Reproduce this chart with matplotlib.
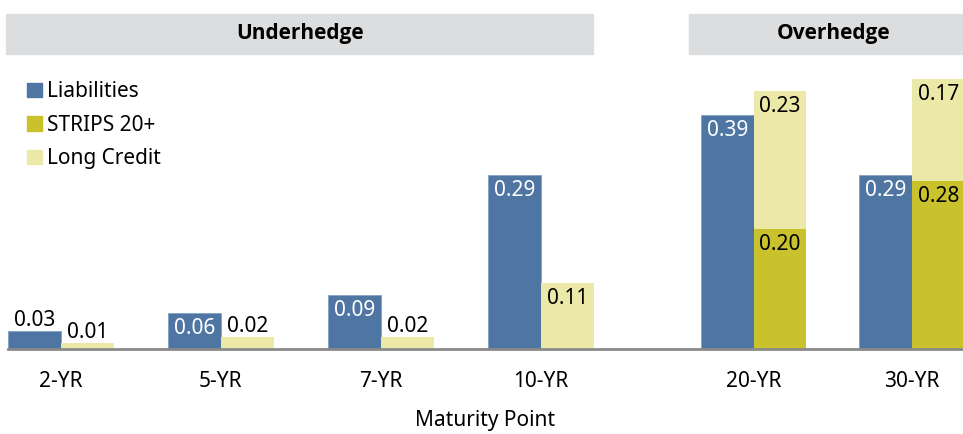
import numpy as np
import matplotlib.pyplot as plt
from matplotlib.patches import Rectangle, Patch

plt.rcParams['font.family'] = ['Noto Sans', 'DejaVu Sans']

# Data
maturities = ['2-YR', '5-YR', '7-YR', '10-YR', '20-YR', '30-YR']
liabilities = [0.03, 0.06, 0.09, 0.29, 0.39, 0.29]
strips = [0.0, 0.0, 0.0, 0.0, 0.20, 0.28]
long_credit = [0.01, 0.02, 0.02, 0.11, 0.23, 0.17]

c_liab = '#4f76a2'
c_strips = '#c9c22c'
c_lc = '#ece9a8'
c_head = '#dcdddf'

W, H = 963, 434
fig = plt.figure(figsize=(W / 100, H / 100), dpi=100)
# axes from x=8px to 963px, y from baseline 349px up to top 0px
ax = fig.add_axes([8 / W, (H - 349) / H, (W - 8) / W, 349 / H])

pos = np.array([0, 1, 2, 3, 4.33, 5.32])
w = 0.33

ax.bar(pos - w / 2, liabilities, w, color=c_liab, edgecolor='#7d9bbd', linewidth=0.5)
ax.bar(pos + w / 2, strips, w, color=c_strips, linewidth=0)
ax.bar(pos + w / 2, long_credit, w, bottom=strips, color=c_lc, linewidth=0)

ax.set_xlim(-w, -w + (W - 8) / 160)
ax.set_ylim(0, 349 / 600)

fs = 15
inside_off = -15 / 600
above_off = 10 / 600

def label(x, top, v, col):
    if v <= 0:
        return
    if v >= 0.05:
        ax.text(x, top + inside_off, f'{v:.2f}', ha='center', va='center', fontsize=fs, color=col)
    else:
        ax.text(x, top + above_off, f'{v:.2f}', ha='center', va='center', fontsize=fs, color='black')

for i in range(len(maturities)):
    label(pos[i] - w / 2, liabilities[i], liabilities[i], 'white')
    label(pos[i] + w / 2, strips[i], strips[i], 'black')
    label(pos[i] + w / 2, strips[i] + long_credit[i], long_credit[i], 'black')

for s in ['top', 'right', 'left']:
    ax.spines[s].set_visible(False)
ax.spines['bottom'].set_color('#8a8a8a')
ax.spines['bottom'].set_linewidth(2)
ax.set_yticks([])
ax.set_xticks(pos)
ax.set_xticklabels(maturities, fontsize=fs)
ax.tick_params(axis='x', length=0, pad=16)
ax.set_xlabel('Maturity Point', fontsize=fs, labelpad=13)

# group headers
fig.patches.append(Rectangle((6 / W, (H - 54) / H), (593 - 6) / W, 40 / H,
                             transform=fig.transFigure, color=c_head, zorder=0))
fig.patches.append(Rectangle((689 / W, (H - 54) / H), (W - 689) / W, 40 / H,
                             transform=fig.transFigure, color=c_head, zorder=0))
fig.text(300 / W, (H - 34) / H, 'Underhedge', ha='center', va='center', fontsize=fs,
         fontweight='bold', family=['Open Sans', 'DejaVu Sans'])
fig.text(834 / W, (H - 34) / H, 'Overhedge', ha='center', va='center', fontsize=fs,
         fontweight='bold', family=['Open Sans', 'DejaVu Sans'])

handles = [Patch(color=c_liab, label='Liabilities'),
           Patch(color=c_strips, label='STRIPS 20+'),
           Patch(color=c_lc, label='Long Credit')]
ax.legend(handles=handles, loc='upper left', bbox_to_anchor=(19 / W, (H - 73) / H),
          bbox_transform=fig.transFigure, frameon=False, fontsize=fs,
          handlelength=0.7, handleheight=0.7, handletextpad=0.25, labelspacing=0.6,
          borderaxespad=0)

fig.savefig('out.png', dpi=100)
